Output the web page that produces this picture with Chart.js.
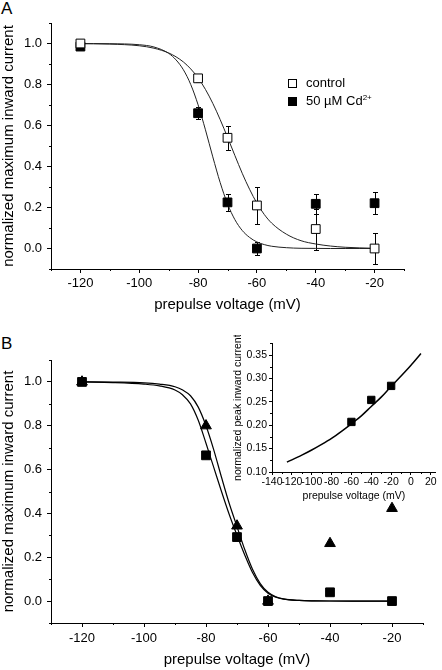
<!DOCTYPE html>
<html>
<head>
<meta charset="utf-8">
<script src="https://cdn.jsdelivr.net/npm/chart.js@4.4.0/dist/chart.umd.min.js"></script>
<style>
    body { margin: 0; background: #fff; }
    #wrap { position: relative; width: 442px; height: 670px; font-family: "Liberation Sans", Arial, sans-serif; color: #000; }
    canvas { position: absolute; }
    .panel-label { position: absolute; left: 1px; font-size: 17px; line-height: 17px; }
    .legend-item { position: absolute; left: 288px; font-size: 13px; line-height: 13px; white-space: nowrap; }
    .legend-item i { display: inline-block; width: 7px; height: 7px; border: 1px solid #000; margin-right: 9px; vertical-align: -1px; }
    .legend-item sup { font-size: 8px; line-height: 0; }
</style>
</head>
<body>
<div id="wrap">
    <div class="panel-label" style="top:0">A</div>
    <div class="panel-label" style="top:335px">B</div>
    <canvas id="chartA" width="442" height="335" style="left:0;top:0"></canvas>
    <canvas id="chartB" width="442" height="335" style="left:0;top:335px"></canvas>
    <canvas id="chartInset" width="242" height="175" style="left:200px;top:335px"></canvas>
    <div class="legend-item" style="top:76px"><i style="background:#fff"></i>control</div>
    <div class="legend-item" style="top:94px"><i style="background:#000"></i>50 µM Cd<sup>2+</sup></div>
</div>
<script>
// ---------- 데이터 : A ----------
const voltA = [-120, -80, -70, -60, -40, -20];
const controlA = [1.0, 0.83, 0.54, 0.21, 0.095, 0.0];
const controlErrA = [0.005, 0.02, 0.06, 0.09, 0.1, 0.075];
const cdA = [0.985, 0.66, 0.225, 0.0, 0.218, 0.221];
const cdErrA = [0.01, 0.03, 0.04, 0.033, 0.05, 0.053];

const fitVoltA = [-121, -110, -100, -95, -90, -87.5, -85, -82.5, -80, -77.5, -75, -72.5, -70, -67.5, -65, -62.5, -60, -57.5, -55, -50, -45, -40, -35, -30, -25, -20];
const fitControlA = [0.999, 0.997, 0.989, 0.977, 0.954, 0.935, 0.91, 0.876, 0.832, 0.776, 0.708, 0.629, 0.543, 0.454, 0.367, 0.289, 0.221, 0.166, 0.124, 0.07, 0.038, 0.022, 0.012, 0.006, 0.003, 0.001];
const fitCdA = [1.0, 0.999, 0.994, 0.983, 0.952, 0.92, 0.872, 0.8, 0.701, 0.579, 0.447, 0.322, 0.218, 0.141, 0.088, 0.054, 0.032, 0.019, 0.011, 0.004, 0.001, 0.0005, 0, 0, 0, 0];

// ---------- 데이터 : B ----------
const voltB = [-120, -80, -70, -60, -40, -20];
const triangleB = [1.0, 0.8, 0.343, 0.0, 0.263, 0.423];
const squareB = [1.0, 0.665, 0.292, 0.0, 0.04, 0.0];

const fitVoltB = [-120, -110, -100, -95, -90, -87.5, -85, -82.5, -80, -77.5, -75, -72.5, -70, -67.5, -65, -62.5, -60, -57.5, -55, -50, -45, -40, -30, -20];
const fitTriangleB = [1.0, 0.999, 0.996, 0.99, 0.978, 0.963, 0.937, 0.885, 0.8, 0.69, 0.565, 0.445, 0.34, 0.235, 0.145, 0.08, 0.04, 0.02, 0.01, 0.003, 0.001, 0.0003, 0, 0];
const fitSquareB = [1.0, 0.997, 0.99, 0.982, 0.963, 0.94, 0.9, 0.825, 0.72, 0.61, 0.5, 0.395, 0.3, 0.21, 0.13, 0.072, 0.036, 0.018, 0.009, 0.003, 0.001, 0.0003, 0, 0];

// ---------- 데이터 : inset ----------
const voltInset = [-60, -40, -20];
const peakInset = [0.207, 0.254, 0.284];
const fitVoltInset = [-125, -110, -100, -90, -80, -70, -60, -50, -40, -30, -20, -10, 0, 10];
const fitPeakInset = [0.121, 0.136, 0.147, 0.159, 0.172, 0.187, 0.203, 0.22, 0.24, 0.26, 0.283, 0.305, 0.328, 0.353];

// ---------- 눈금 ----------
const xTicksMain = [-120, -100, -80, -60, -40, -20];
const xMinorMain = [-130, -110, -90, -70, -50, -30, -10];
const yTicksMain = [0, 0.2, 0.4, 0.6, 0.8, 1.0];
const yMinorMain = [-0.1, 0.1, 0.3, 0.5, 0.7, 0.9, 1.1];
const xTicksInset = [-140, -120, -100, -80, -60, -40, -20, 0, 20];
const xMinorInset = [-130, -110, -90, -70, -50, -30, -10, 10];
const yTicksInset = [0.10, 0.15, 0.20, 0.25, 0.30, 0.35];
const yMinorInset = [0.125, 0.175, 0.225, 0.275, 0.325, 0.375];

Chart.defaults.font.family = '"Liberation Sans", Arial, sans-serif';
Chart.defaults.color = '#000';

// x, y 배열 -> point
function toPoints(xs, ys) {
    return xs.map((v, i) => ({ x: v, y: ys[i] }));
}

// 보조 눈금
const minorTickPlugin = {
    id: 'minorTicks',
    afterDraw(chart, args, opts) {
        const ctx = chart.ctx;
        const { x, y } = chart.scales;
        ctx.save();
        ctx.strokeStyle = '#000';
        ctx.lineWidth = 1;
        ctx.beginPath();
        (opts.x || []).forEach(v => {
            const px = Math.round(x.getPixelForValue(v)) + 0.5;
            ctx.moveTo(px, y.bottom);
            ctx.lineTo(px, y.bottom + opts.len);
        });
        (opts.y || []).forEach(v => {
            const py = Math.round(y.getPixelForValue(v)) + 0.5;
            ctx.moveTo(x.left, py);
            ctx.lineTo(x.left - opts.len, py);
        });
        ctx.stroke();
        ctx.restore();
    }
};

// 오차 막대
const errorBarPlugin = {
    id: 'errorBars',
    beforeDatasetsDraw(chart) {
        const ctx = chart.ctx;
        const { x, y } = chart.scales;
        ctx.save();
        ctx.strokeStyle = '#000';
        ctx.lineWidth = 1;
        chart.data.datasets.forEach(ds => {
            if (!ds.errors) return;
            ds.data.forEach((p, i) => {
                const e = ds.errors[i];
                if (!e) return;
                const px = Math.round(x.getPixelForValue(p.x)) + 0.5;
                const top = Math.round(y.getPixelForValue(p.y + e)) + 0.5;
                const bot = Math.round(y.getPixelForValue(p.y - e)) + 0.5;
                ctx.beginPath();
                ctx.moveTo(px, top); ctx.lineTo(px, bot);
                ctx.moveTo(px - 2.5, top); ctx.lineTo(px + 2.5, top);
                ctx.moveTo(px - 2.5, bot); ctx.lineTo(px + 2.5, bot);
                ctx.stroke();
            });
        });
        ctx.restore();
    }
};

// 축 설정
function getAxis(cfg) {
    return {
        type: 'linear',
        position: cfg.position,
        min: cfg.min,
        max: cfg.max,
        afterBuildTicks: scale => { scale.ticks = cfg.ticks.map(v => ({ value: v })); },
        afterFit: scale => {
            if (cfg.position === 'left') scale.width = cfg.size;
            else scale.height = cfg.size;
        },
        grid: { display: true, drawOnChartArea: false, drawTicks: true, tickLength: cfg.tickLength, color: '#000' },
        border: { display: true, color: '#000', width: 1 },
        ticks: {
            autoSkip: false,
            maxRotation: 0,
            padding: cfg.tickPadding,
            font: { size: cfg.tickSize },
            callback: cfg.format
        },
        title: {
            display: true,
            text: cfg.title,
            font: { size: cfg.titleSize },
            padding: cfg.titlePadding
        }
    };
}

function markerSet(points, style, fill, radius, errors) {
    return {
        data: points,
        showLine: false,
        pointStyle: style,
        pointRadius: radius,
        pointBackgroundColor: fill,
        pointBorderColor: '#000',
        pointBorderWidth: 1,
        errors: errors,
        clip: false
    };
}

function curveSet(points, width, color) {
    return {
        data: points,
        showLine: true,
        pointRadius: 0,
        borderColor: color,
        borderWidth: width,
        cubicInterpolationMode: 'monotone',
        fill: false
    };
}

function getChart(id, datasets, scales, padding, minor) {
    new Chart(document.getElementById(id), {
        type: 'scatter',
        data: { datasets: datasets },
        options: {
            responsive: false,
            animation: false,
            layout: { padding: padding },
            scales: scales,
            plugins: {
                legend: { display: false },
                tooltip: { enabled: false },
                minorTicks: minor
            }
        },
        plugins: [minorTickPlugin, errorBarPlugin]
    });
}

const fmt1 = v => v.toFixed(1);
const fmt2 = v => v.toFixed(2);

// A
getChart('chartA', [
    markerSet(toPoints(voltA, controlA), 'rect', '#fff', 6.2, controlErrA),
    markerSet(toPoints(voltA, cdA), 'rect', '#000', 6.2, cdErrA),
    curveSet(toPoints(fitVoltA, fitControlA), 1, '#222'),
    curveSet(toPoints(fitVoltA, fitCdA), 1, '#222')
], {
    x: getAxis({ position: 'bottom', min: -130, max: -10, ticks: xTicksMain, size: 66, tickLength: 4, tickPadding: 3, tickSize: 13,
        title: 'prepulse voltage (mV)', titleSize: 15, titlePadding: { top: 0, bottom: 21 } }),
    y: getAxis({ position: 'left', min: -0.1, max: 1.1, ticks: yTicksMain, size: 51, tickLength: 4, tickPadding: 5, tickSize: 13,
        format: fmt1, title: 'normalized maximum inward current', titleSize: 15, titlePadding: { top: 0, bottom: 0 } })
}, { top: 23, right: 38, left: 0, bottom: 0 }, { x: xMinorMain, y: yMinorMain, len: 2 });

// B
getChart('chartB', [
    markerSet(toPoints(voltB, triangleB), 'triangle', '#000', 6.2),
    markerSet(toPoints(voltB, squareB), 'rect', '#000', 6.2),
    curveSet(toPoints(fitVoltB, fitTriangleB), 1.2, '#000'),
    curveSet(toPoints(fitVoltB, fitSquareB), 1.2, '#000')
], {
    x: getAxis({ position: 'bottom', min: -130, max: -10, ticks: xTicksMain, size: 47, tickLength: 4, tickPadding: 4, tickSize: 13,
        title: 'prepulse voltage (mV)', titleSize: 15, titlePadding: { top: 0, bottom: 1 } }),
    y: getAxis({ position: 'left', min: -0.1, max: 1.1, ticks: yTicksMain, size: 51, tickLength: 4, tickPadding: 5, tickSize: 13,
        format: fmt1, title: 'normalized maximum inward current', titleSize: 15, titlePadding: { top: 0, bottom: 0 } })
}, { top: 25, right: 19, left: 0, bottom: 0 }, { x: xMinorMain, y: yMinorMain, len: 2 });

// inset
getChart('chartInset', [
    markerSet(toPoints(voltInset, peakInset), 'rect', '#000', 5.2),
    curveSet(toPoints(fitVoltInset, fitPeakInset), 1.5, '#000')
], {
    x: getAxis({ position: 'bottom', min: -140, max: 25, ticks: xTicksInset, size: 38, tickLength: 3, tickPadding: 1, tickSize: 10.5,
        title: 'prepulse voltage (mV)', titleSize: 10.5, titlePadding: { top: 0, bottom: 8 } }),
    y: getAxis({ position: 'left', min: 0.1, max: 0.375, ticks: yTicksInset, size: 72, tickLength: 3, tickPadding: 2, tickSize: 10.5,
        format: fmt2, title: 'normalized peak inward current', titleSize: 10.5, titlePadding: { top: 32, bottom: 0 } })
}, { top: 2, right: 3, left: 0, bottom: 0 }, { x: xMinorInset, y: yMinorInset, len: 2 });
</script>
</body>
</html>
